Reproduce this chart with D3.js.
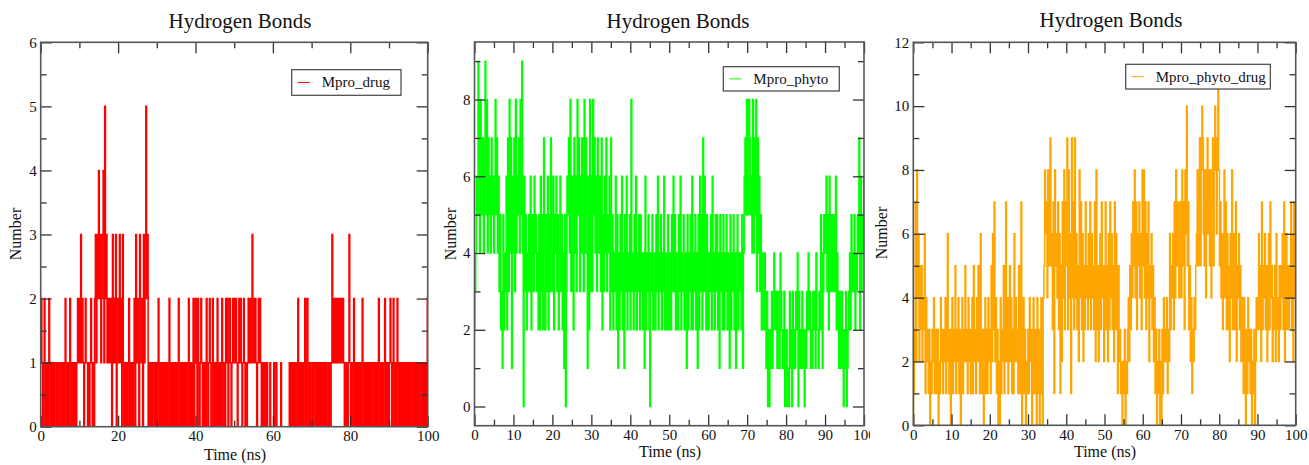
<!DOCTYPE html>
<html>
<head>
<meta charset="utf-8">
<script src="https://cdn.jsdelivr.net/npm/d3@7"></script>
<style>
  body { margin: 0; background: #fff; }
  text { font-family: "Liberation Serif", "Times New Roman", serif; fill: #111; }
</style>
</head>
<body>
<div id="chart"></div>
<script>
/*
  Hydrogen bonds, three panels
*/

// H-bond counts, one string per 10 ns (0.2 ns steps), "a" = 10, "b" = 11
var drugHB = [
  "12101201010210101010010100110101201010210101010121",
  "21312101211010121010231324231234152312121203121302",
  "21312031010101201010120312103212031252301010100101",
  "01201010101010102101010101012010101010101201010201",
  "21021012101010210121012010102010102101021201210121",
  "21210121210121010121212312121012121010101010001000",
  "01001000001000000000010101010101201010101201201010",
  "01011010101010101010010101312121212121212101010131",
  "01012010101010120101010101010110101021010101201010",
  "12101201012010101010101010101001010101011010101012"
];
var phytoHB = [
  "23465974855746958475647564685746352315243627384716",
  "47384657485940635243536245364534252635274253625374",
  "36254635246352415036574836527463857364753847516283",
  "63857463754637253647354627352436251425362415362435",
  "28342536243525342416243520435234253624352436242352",
  "34253635244253624352341524352624352415263527364253",
  "24352634253524153425243524315243524135243425146758",
  "65875648475837463524324213020123124323132143212301",
  "20103120312132403121312021324231213231422132541354",
  "46352643534536243132132021301234253435243547263546"
];
var phytoDrugHB = [
  "01372846253524361423130213241321302142313241362130",
  "24132513241302413252314231241523142531621302413142",
  "31526372413020413251372413524131624321521702413021",
  "31423024132041302410458674857956371856473615274837",
  "59384619473946352847362537453647364537283524637452",
  "47352637463527364152312021302134253647584736574638",
  "58473647254635241302130203142324132635463748576475",
  "4857386a5735241324356857958a9658479685847958a869b8",
  "57463584736352648364372546352431420314231302130243",
  "46352735463524637452435263425354637246353547362745"
];

var seriesNames = ["Mpro_drug", "Mpro_phyto", "Mpro_phyto_drug"];
var seriesColors = ["#ff0000", "#00ff00", "#ffa500"];
var titleText = "Hydrogen Bonds",
    xLabel = "Time (ns)",
    yLabel = "Number";

var xMajor1 = [0, 20, 40, 60, 80, 100], xMinor1 = [10, 30, 50, 70, 90];
var xMajor2 = [0, 10, 20, 30, 40, 50, 60, 70, 80, 90, 100], xMinor2 = [5, 15, 25, 35, 45, 55, 65, 75, 85, 95];
var yMajor1 = [0, 1, 2, 3, 4, 5, 6], yMinor1 = [0.5, 1.5, 2.5, 3.5, 4.5, 5.5];
var yMajor2 = [0, 2, 4, 6, 8], yMinor2 = [1, 3, 5, 7, 9];
var yMajor3 = [0, 2, 4, 6, 8, 10, 12], yMinor3 = [1, 3, 5, 7, 9, 11];

var W = 1309, H = 465;

var panels = [
  {data: drugHB, name: seriesNames[0], color: seriesColors[0],
   box: {left: 40.7, right: 427.7, top: 42.3, bottom: 426.7}, yDomain: [0, 6],
   xMajor: xMajor1, xMinor: xMinor1, yMajor: yMajor1, yMinor: yMinor1,
   title: {x: 240, y: 28}, xLab: {x: 235, y: 460}, yLab: {x: 21, y: 234},
   legend: {x: 291.7, y: 69.7, w: 109.3, h: 25.6}, clip: null},
  {data: phytoHB, name: seriesNames[1], color: seriesColors[1],
   box: {left: 474.5, right: 864, top: 42, bottom: 425.7}, yDomain: [-0.5, 9.5],
   xMajor: xMajor2, xMinor: xMinor2, yMajor: yMajor2, yMinor: yMinor2,
   title: {x: 678, y: 28}, xLab: {x: 670, y: 457}, yLab: {x: 456, y: 234},
   legend: {x: 723.3, y: 66.7, w: 116, h: 24.3}, clip: [436, 870]},
  {data: phytoDrugHB, name: seriesNames[2], color: seriesColors[2],
   box: {left: 913.3, right: 1295.7, top: 42.3, bottom: 425.3}, yDomain: [0, 12],
   xMajor: xMajor2, xMinor: xMinor2, yMajor: yMajor3, yMinor: yMinor3,
   title: {x: 1111, y: 27}, xLab: {x: 1105, y: 457}, yLab: {x: 887, y: 233},
   legend: {x: 1125.7, y: 64.3, w: 144.6, h: 24.7}, clip: null}
];

var svg = d3.select("#chart").append("svg")
  .attr("width", W)
  .attr("height", H);

var defs = svg.append("defs");

panels.forEach(function(p, k){
  var values = p.data.join("").split("").map(function(c){ return parseInt(c, 16); });
  var n = values.length;
  var points = values.map(function(v, i){ return {x: i * 100 / (n - 1), y: v}; });

  var x = d3.scaleLinear().domain([0, 100]).range([p.box.left, p.box.right]);
  var y = d3.scaleLinear().domain(p.yDomain).range([p.box.bottom, p.box.top]);
  var plotW = p.box.right - p.box.left,
      plotH = p.box.bottom - p.box.top;

  var g = svg.append("g");
  if(p.clip){
    defs.append("clipPath").attr("id", "panelclip" + k)
      .append("rect").attr("x", p.clip[0]).attr("y", 0)
      .attr("width", p.clip[1] - p.clip[0]).attr("height", H);
    g.attr("clip-path", "url(#panelclip" + k + ")");
  }

  defs.append("clipPath").attr("id", "plotclip" + k)
    .append("rect").attr("x", p.box.left).attr("y", p.box.top)
    .attr("width", plotW).attr("height", plotH);

  //The series line, stepped so the dense trace fills like the original
  var line = d3.line()
    .curve(d3.curveStep)
    .x(function(d){ return x(d.x); })
    .y(function(d){ return y(d.y); });

  g.append("path")
    .datum(points)
    .attr("clip-path", "url(#plotclip" + k + ")")
    .style("fill", "none")
    .style("stroke", p.color)
    .style("stroke-width", "1.5px")
    .attr("d", line);

  //Axes, ticks pointing inwards on all four sides
  function addAxis(axisFn, scale, major, minor, transform, labels){
    var maj = g.append("g").attr("transform", transform)
      .call(axisFn(scale).tickValues(major).tickSizeInner(-11).tickSizeOuter(0).tickPadding(4)
        .tickFormat(labels ? d3.format("d") : ""));
    var mnr = g.append("g").attr("transform", transform)
      .call(axisFn(scale).tickValues(minor).tickSizeInner(-6).tickSizeOuter(0).tickFormat(""));
    [maj, mnr].forEach(function(a){
      a.select(".domain").remove();
      a.selectAll("line").style("stroke", "#333").style("stroke-width", "1.3px");
      a.selectAll("text").style("font-family", "'Liberation Serif', 'Times New Roman', serif")
        .style("font-size", "15px").style("fill", "#111");
    });
    return maj;
  }

  addAxis(d3.axisBottom, x, p.xMajor, p.xMinor, "translate(0," + p.box.bottom + ")", true);
  addAxis(d3.axisTop, x, p.xMajor, p.xMinor, "translate(0," + p.box.top + ")", false);
  addAxis(d3.axisLeft, y, p.yMajor, p.yMinor, "translate(" + p.box.left + ",0)", true);
  addAxis(d3.axisRight, y, p.yMajor, p.yMinor, "translate(" + p.box.right + ",0)", false);

  //Frame
  g.append("rect")
    .attr("x", p.box.left)
    .attr("y", p.box.top)
    .attr("width", plotW)
    .attr("height", plotH)
    .style("fill", "none")
    .style("stroke", "#555")
    .style("stroke-width", "1.6px");

  //Legend
  var lg = g.append("g").attr("transform", "translate(" + p.legend.x + "," + p.legend.y + ")");
  lg.append("rect")
    .attr("width", p.legend.w)
    .attr("height", p.legend.h)
    .style("fill", "#fff")
    .style("stroke", "#444")
    .style("stroke-width", "1.2px");
  lg.append("line")
    .attr("x1", 6).attr("x2", 18)
    .attr("y1", p.legend.h / 2).attr("y2", p.legend.h / 2)
    .style("stroke", p.color)
    .style("stroke-width", "1px");
  lg.append("text")
    .attr("x", 30)
    .attr("y", p.legend.h / 2 + 5)
    .style("font-size", "15px")
    .text(p.name);

  //Title
  g.append("text")
    .attr("x", p.title.x)
    .attr("y", p.title.y)
    .style("text-anchor", "middle")
    .style("font-size", "21px")
    .text(titleText);

  //Label for X axis
  g.append("text")
    .attr("x", p.xLab.x)
    .attr("y", p.xLab.y)
    .style("text-anchor", "middle")
    .style("font-size", "16px")
    .text(xLabel);

  //Label for Y axis
  g.append("text")
    .attr("transform", "translate(" + p.yLab.x + "," + p.yLab.y + ") rotate(-90)")
    .style("text-anchor", "middle")
    .style("font-size", "16px")
    .text(yLabel);
});
</script>
</body>
</html>
